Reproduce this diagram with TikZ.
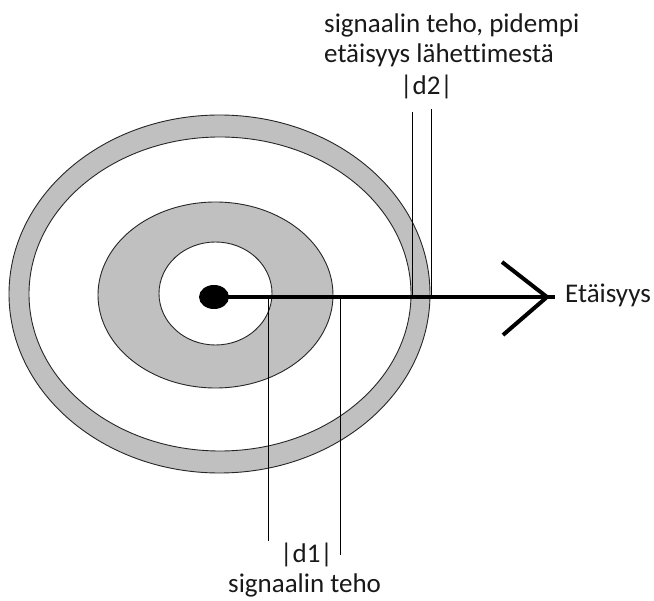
\documentclass[tikz,border=0pt]{standalone}
\usepackage{fontspec}
\setmainfont{Carlito}[Ligatures=NoCommon]
\usetikzlibrary{shapes.geometric}
\definecolor{ringgray}{RGB}{192,192,192}
\begin{document}
\begin{tikzpicture}[x=1pt,y=-1pt,
  ring/.style={draw=black!85,line width=0.9pt},
  lbl/.style={inner sep=0pt,anchor=base west,font=\fontsize{27}{32}\selectfont,text=black!90},
  guide/.style={draw=black,line width=0.9pt},
  axisline/.style={draw=black,line width=4pt}]
\useasboundingbox (0,0) rectangle (654,601);
\fill[white] (0,0) rectangle (654,601);
% rings
\draw[ring,fill=ringgray] (219.5,294) ellipse [x radius=210.5,y radius=179];
\draw[ring,fill=white] (220,294) ellipse [x radius=191,y radius=157];
\draw[ring,fill=ringgray] (215.5,295) ellipse [x radius=117.5,y radius=93];
\draw[ring,fill=white] (215.5,293.5) ellipse [x radius=56.5,y radius=51.5];
% coordinates
\coordinate (axisend) at (555,297);
\coordinate (tip) at (547,297);
\coordinate (armU) at (502,262);
\coordinate (armL) at (503,335);
\coordinate (d2aT) at (412,112);
\coordinate (d2aB) at (412,297);
\coordinate (d2bT) at (431,109);
\coordinate (d2bB) at (431,297);
\coordinate (d1aT) at (268,297);
\coordinate (d1aB) at (268,541);
\coordinate (d1bT) at (340,298);
\coordinate (d1bB) at (340,555);
% guides
\draw[guide] (d2aT) -- (d2aB);
\draw[guide] (d2bT) -- (d2bB);
\draw[guide] (d1aT) -- (d1aB);
\draw[guide] (d1bT) -- (d1bB);
% source and axis
\node[ellipse,fill=black,minimum width=30pt,minimum height=24pt,inner sep=0pt] (src) at (214,297) {};
\draw[axisline] (src.center) -- (axisend);
\draw[axisline] (armU) -- (tip);
\draw[axisline] (armL) -- (tip);
% labels
\node[lbl] (t1) at (324,33) {signaalin teho, pidempi};
\node[lbl] (t2) at (324,63) {etäisyys lähettimestä};
\node[lbl] (d2) at (400,95) {|d2|};
\node[lbl] (d1) at (280,563) {|d1|};
\node[lbl] (t3) at (228,593) {signaalin teho};
\node[lbl] (et) at (565,303) {Etäisyys};
\end{tikzpicture}
\end{document}
